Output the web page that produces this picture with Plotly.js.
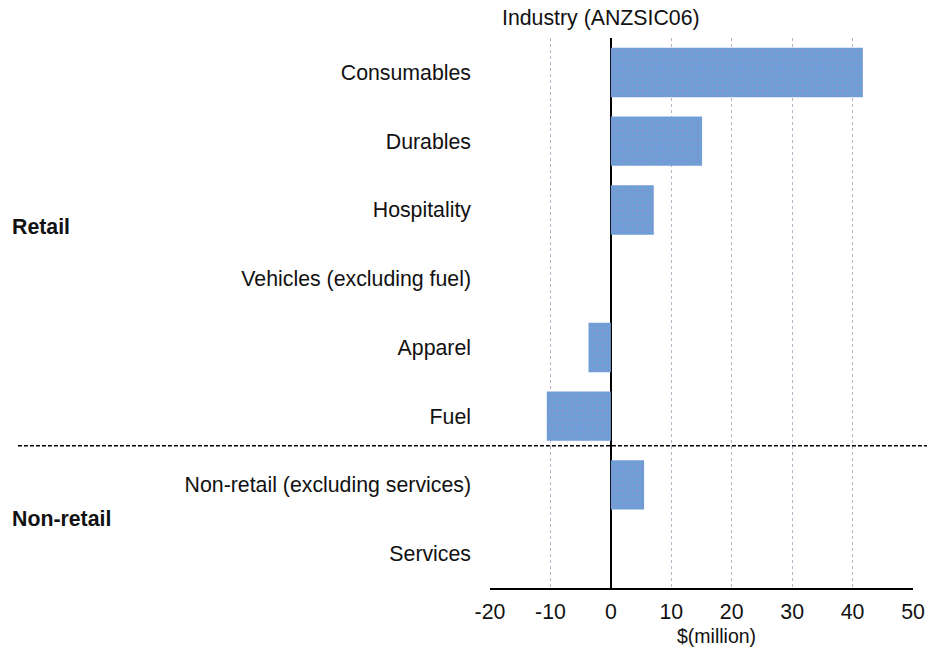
<!DOCTYPE html>
<html>
<head>
<meta charset="utf-8">
<script src="https://cdn.plot.ly/plotly-3.0.1.min.js"></script>
<style>html,body{margin:0;padding:0;background:#fff;}#chart{width:927px;height:647px;}</style>
</head>
<body>
<div id="chart"></div>
<script>
const categories = ["Consumables","Durables","Hospitality","Vehicles (excluding fuel)","Apparel","Fuel","Non-retail (excluding services)","Services"];
const values = [41.7, 15.1, 7.1, 0, -3.7, -10.6, 5.5, 0];
const groupLabels = ["Retail","Non-retail"];
const xTicks = [-20,-10,0,10,20,30,40,50];
const chartTitle = "Industry (ANZSIC06)";
const xTitle = "$(million)";

const FONT = "Liberation Sans, Arial, sans-serif";
const FS = 21.3;

const trace = {
  type: "bar",
  orientation: "h",
  y: categories,
  x: values,
  width: 0.72,
  marker: {
    color: "#6fa0d3",
    line: {width: 0},
    pattern: {shape: ".", fgcolor: "#8c86df", bgcolor: "#6fa0d3", size: 5, solidity: 0.25, fillmode: "overlay"}
  },
  hoverinfo: "x+y"
};

const layout = {
  width: 927, height: 647,
  margin: {l: 490, r: 14, t: 38, b: 59},
  paper_bgcolor: "#fff", plot_bgcolor: "#fff",
  showlegend: false,
  font: {family: FONT, size: FS, color: "#111"},
  xaxis: {
    range: [-20, 50],
    tickvals: xTicks,
    ticktext: xTicks.map(String),
    showgrid: true, gridcolor: "#bdb0c8", griddash: "dot", gridwidth: 1,
    zeroline: true, zerolinecolor: "#000", zerolinewidth: 2,
    showline: true, linecolor: "#000", linewidth: 1.5, mirror: false,
    ticks: "", ticklabelstandoff: 4,
    tickfont: {family: FONT, size: FS, color: "#111"},
    fixedrange: true
  },
  yaxis: {
    type: "category",
    categoryorder: "array", categoryarray: categories,
    autorange: "reversed",
    showgrid: false, zeroline: false, showline: false,
    ticks: "", ticklabelstandoff: 18,
    tickfont: {family: FONT, size: FS, color: "#111"},
    fixedrange: true
  },
  shapes: [
    {type: "line", xref: "paper", yref: "y", x0: -1.116, x1: 1.04, y0: 5.43, y1: 5.43,
     line: {color: "#000", width: 1.4, dash: "4px,2px"}}
  ],
  annotations: [
    {text: chartTitle, xref: "paper", yref: "paper", x: 0.024, y: 1.0, xanchor: "left", yanchor: "bottom", yshift: 6,
     showarrow: false, font: {family: FONT, size: FS, color: "#111"}},
    {text: xTitle, xref: "x", yref: "paper", x: 17.5, y: 0, xanchor: "center", yanchor: "top", yshift: -35,
     showarrow: false, font: {family: FONT, size: 19.5, color: "#111"}},
    {text: "<b>" + groupLabels[0] + "</b>", xref: "paper", yref: "y", x: -1.135, y: 2.25, xanchor: "left", yanchor: "middle",
     showarrow: false, font: {family: FONT, size: FS, color: "#111"}},
    {text: "<b>" + groupLabels[1] + "</b>", xref: "paper", yref: "y", x: -1.135, y: 6.5, xanchor: "left", yanchor: "middle",
     showarrow: false, font: {family: FONT, size: FS, color: "#111"}}
  ]
};

Plotly.newPlot("chart", [trace], layout, {displayModeBar: false, staticPlot: true});
</script>
</body>
</html>
